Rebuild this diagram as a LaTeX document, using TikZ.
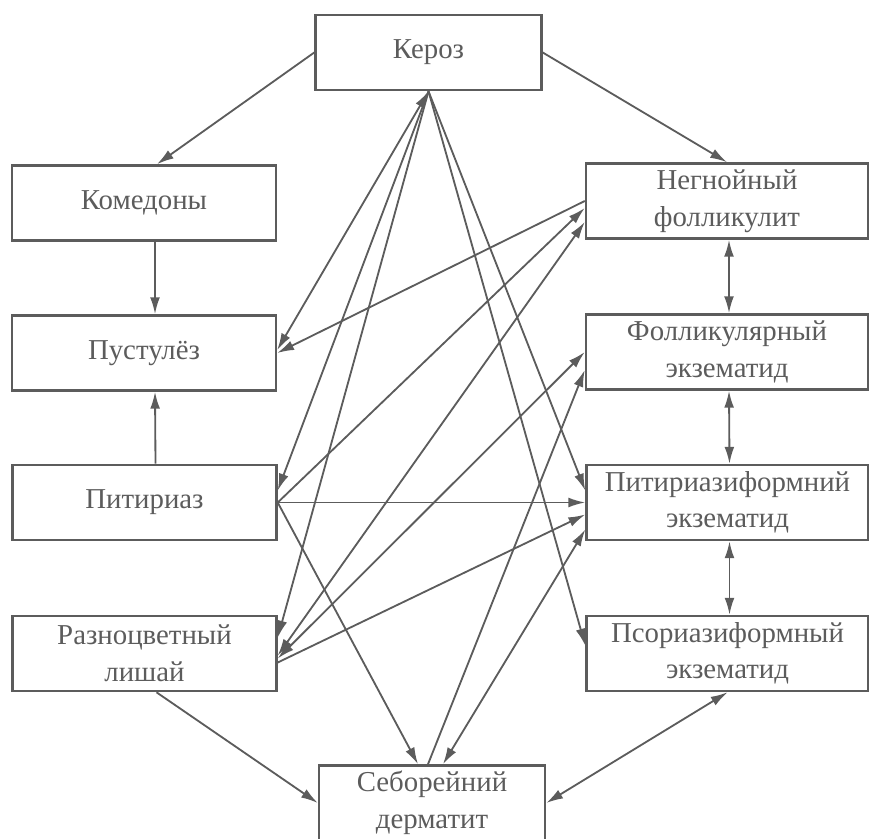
\documentclass[tikz,border=0pt]{standalone}
\usepackage{fontspec}
\setmainfont{Liberation Serif}
\usetikzlibrary{arrows.meta,calc}
\definecolor{ink}{gray}{0.36}

\begin{document}
\begin{tikzpicture}[x=0.025cm, y=-0.025cm,
    box/.style={draw=ink, line width=1.7pt, text=ink, align=center, inner sep=0pt, font=\fontsize{20.5}{26}\selectfont},
    lbox/.style={box, minimum width=6.6cm, minimum height=1.88cm},
    rbox/.style={box, minimum width=7.05cm, minimum height=1.88cm},
    cbox/.style={box, minimum width=5.65cm, minimum height=1.88cm},
    arr/.style={draw=ink, line width=1.3pt, -{Latex[length=12pt,width=7pt]}},
    darr/.style={draw=ink, line width=1.3pt, {Latex[length=12pt,width=7pt]}-{Latex[length=12pt,width=7pt]}}]
    \useasboundingbox (0,0) rectangle (869,839);
    \node[cbox] (keroz) at (428.5,52.5) {Кероз};
    \node[lbox] (komed) at (144,203) {Комедоны};
    \node[lbox] (pustul) at (144,353) {Пустулёз};
    \node[lbox] (pitir) at (144.5,502.5) {Питириаз};
    \node[lbox] (razno) at (144.5,653.5) {Разноцветный\\лишай};
    \node[cbox] (seborr) at (432,803) {Себорейний\\дерматит};
    \node[rbox] (negn) at (727,201) {Негнойный\\фолликулит};
    \node[rbox] (follik) at (727,352) {Фолликулярный\\экзематид};
    \node[rbox] (pitekz) at (727.5,502.5) {Питириазиформний\\экзематид};
    \node[rbox] (psorekz) at (727.5,653.5) {Псориазиформный\\экзематид};
    \draw[arr] (keroz.west) -- ($(komed.north)+(13,0)$);
    \draw[arr] (keroz.east) -- (negn.north);
    \draw[arr] ($(komed.south)+(11,0)$) -- ($(pustul.north)+(11,0)$);
    \draw[arr] ($(pitir.north)+(11,0)$) -- ($(pustul.south)+(11,0)$);
    \draw[darr] (keroz.south) -- ($(pustul.east)+(0,-3)$);
    \draw[arr] (keroz.south) -- ($(pitir.east)+(0,-12)$);
    \draw[arr] (keroz.south) -- ($(razno.east)+(0,-16)$);
    \draw[arr] (keroz.south) -- ($(pitekz.west)+(0,-12)$);
    \draw[arr] (keroz.south) -- ($(psorekz.west)+(0,-8)$);
    \draw[arr] (negn.west) -- (pustul.east);
    \draw[arr] (pitir.east) -- ($(negn.west)+(0,7)$);
    \draw[darr] ($(razno.east)+(0,2)$) -- ($(negn.west)+(0,21)$);
    \draw[darr] ($(razno.east)+(0,5)$) -- (follik.west);
    \draw[arr] ($(razno.east)+(0,9)$) -- ($(pitekz.west)+(0,12)$);
    \draw[arr] (pitir.east) -- (pitekz.west);
    \draw[arr] (pitir.east) -- ($(seborr.north)+(-14,0)$);
    \draw[arr] ($(seborr.north)+(-4,0)$) -- ($(follik.west)+(0,18)$);
    \draw[darr] ($(pitekz.west)+(0,27)$) -- ($(seborr.north)+(11,0)$);
    \draw[arr] ($(razno.south)+(12,0)$) -- (seborr.west);
    \draw[darr] (psorekz.south) -- (seborr.east);
    \foreach \a/\b in {negn/follik,follik/pitekz,pitekz/psorekz}
        \draw[darr] ($(\a.south)+(2,0)$) -- ($(\b.north)+(2,0)$);
\end{tikzpicture}
\end{document}
